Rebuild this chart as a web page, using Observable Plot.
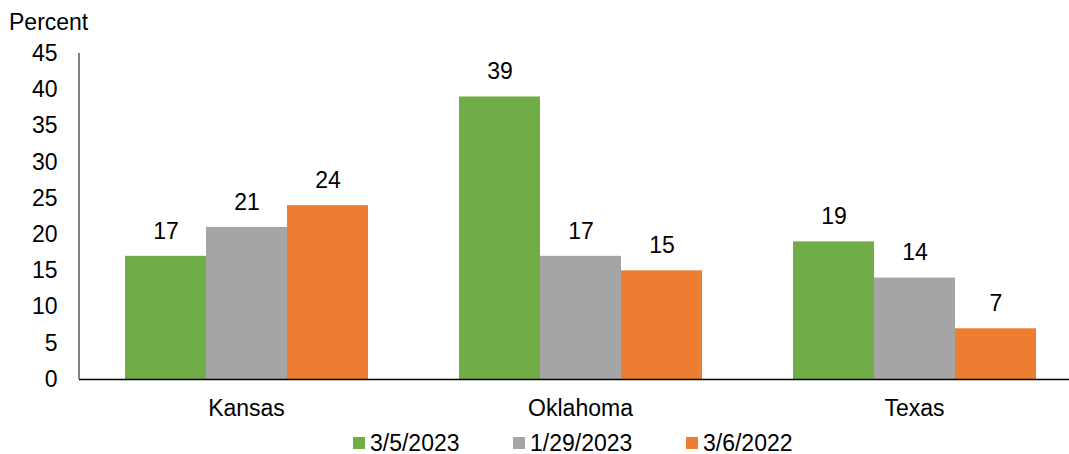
<!DOCTYPE html>
<html><head><meta charset="utf-8">
<script src="https://cdn.jsdelivr.net/npm/d3@7"></script>
<script src="https://cdn.jsdelivr.net/npm/@observablehq/plot@0.6"></script>
<style>
body{margin:0;background:#fff;font-family:"Liberation Sans",Arial,sans-serif;}
#wrap{position:relative;width:1069px;height:454px;}
#chart{width:1069px;height:429px;overflow:hidden;}
#chart svg{max-width:none !important;}
#legend{position:absolute;left:0;top:431px;width:1069px;height:24px;font-size:23px;line-height:24px;color:#000;}
.item{position:absolute;top:0;display:flex;align-items:center;height:24px;}
.sw{width:12px;height:12px;margin-right:5px;}
</style></head>
<body><div id="wrap"><div id="chart"></div><div id="legend"></div></div>
<script>
const states = ["Kansas", "Oklahoma", "Texas"];
const series = ["3/5/2023", "1/29/2023", "3/6/2022"];
const colors = ["#70AD47", "#A5A5A5", "#ED7D31"];
const v_2023_03_05 = [17, 39, 19];
const v_2023_01_29 = [21, 17, 14];
const v_2022_03_06 = [24, 15, 7];
const yTicks = [0, 5, 10, 15, 20, 25, 30, 35, 40, 45];

const allVals = [v_2023_03_05, v_2023_01_29, v_2022_03_06];
const data = [];
states.forEach((s, i) => series.forEach((k, j) => data.push({state: s, series: k, value: allVals[j][i]})));

const FS = 23;
// the reference's plot area runs past the right edge of the picture; it is clipped by the container
const W = 1081, H = 429, mL = 79, mR = 0, mT = 53, mB = 50;
const plot = Plot.plot({
  width: W, height: H,
  marginLeft: mL, marginRight: mR, marginTop: mT, marginBottom: mB,
  style: {fontFamily: '"Liberation Sans", Arial, sans-serif', fontSize: FS + "px", color: "#000", background: "#fff", maxWidth: "none"},
  fx: {domain: states, padding: 0, label: null, axis: null},
  x: {domain: series, paddingInner: 0, paddingOuter: 0.537, axis: null},
  y: {domain: [0, 45], ticks: yTicks, label: null},
  color: {domain: series, range: colors},
  marks: [
    Plot.barY(data, {fx: "state", x: "series", y: "value", fill: "series", inset: 0}),
    Plot.text(data, {fx: "state", x: "series", y: "value", text: d => String(d.value), dy: -25, fontSize: FS, fill: "#000"}),
    Plot.axisY({ticks: yTicks, tickSize: 0, tickPadding: 22, fontSize: FS, label: null, textAnchor: "end"}),
    Plot.axisFx({domain: states, tickSize: 0, tickPadding: 20, fontSize: FS, label: null, anchor: "bottom"}),
    Plot.ruleY([0], {stroke: "#000", strokeWidth: 1.5})
  ]
});
document.getElementById("chart").appendChild(plot);

const svg = d3.select(plot);
const ys = plot.scale("y");
// y axis line drawn from the y scale range
svg.append("line")
  .attr("x1", mL).attr("x2", mL)
  .attr("y1", ys.apply(45)).attr("y2", ys.apply(0))
  .attr("stroke", "#595959").attr("stroke-width", 1.5);

// "Percent" title at top-left
svg.append("text").attr("x", 9).attr("y", 30).attr("font-size", FS).attr("fill", "#000")
  .attr("text-anchor", "start")
  .attr("font-family", '"Liberation Sans", Arial, sans-serif').text("Percent");

// Legend
const legendX = [353, 513, 686];
const lg = document.getElementById("legend");
series.forEach((s, i) => {
  const it = document.createElement("div");
  it.className = "item";
  it.style.left = legendX[i] + "px";
  const sw = document.createElement("div");
  sw.className = "sw"; sw.style.background = colors[i];
  const t = document.createElement("span"); t.textContent = s;
  it.appendChild(sw); it.appendChild(t); lg.appendChild(it);
});
</script></body></html>
